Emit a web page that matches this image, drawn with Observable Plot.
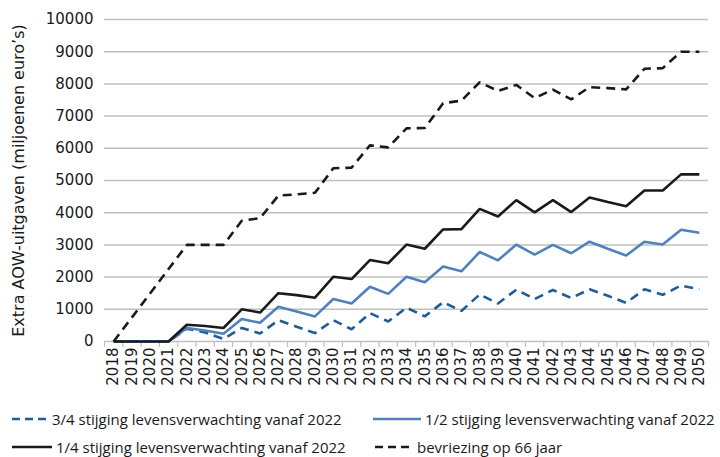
<!DOCTYPE html>
<html>
<head>
<meta charset="utf-8">
<script src="https://cdn.jsdelivr.net/npm/d3@7"></script>
<script src="https://cdn.jsdelivr.net/npm/@observablehq/plot@0.6"></script>
<style>
  html, body { margin: 0; padding: 0; background: #fff; }
  #wrap { width: 720px; height: 457px; position: relative; overflow: hidden; }
  #legend { position: absolute; left: 0; top: 400px; width: 720px; height: 57px; font-family: "Open Sans", sans-serif; font-size: 15px; color: #1a1a1a; }
  .item { position: absolute; display: flex; align-items: center; white-space: nowrap; transform: translateY(-50%); }
  .item svg { display: block; margin-right: 4px; }
</style>
</head>
<body>
<div id="wrap">
  <div id="chart"></div>
  <div id="legend"></div>
</div>
<script>
// ---- data ----
const years = d3.range(2018, 2051);
const yTicks = [0, 1000, 2000, 3000, 4000, 5000, 6000, 7000, 8000, 9000, 10000];
const seriesNames = [
  "3/4 stijging levensverwachting vanaf 2022",
  "1/2 stijging levensverwachting vanaf 2022",
  "1/4 stijging levensverwachting vanaf 2022",
  "bevriezing op 66 jaar"
];
const drieKwart = [0,0,0,0,400,280,80,420,250,660,460,260,660,380,880,620,1050,780,1220,950,1460,1180,1610,1320,1600,1350,1620,1420,1200,1620,1450,1740,1620];
const half = [0,0,0,0,420,340,240,700,580,1080,930,780,1320,1180,1700,1480,2010,1840,2330,2180,2780,2520,3010,2700,3000,2740,3100,2880,2670,3100,3010,3470,3380];
const kwart = [0,0,0,0,520,480,420,1000,900,1500,1440,1360,2010,1940,2530,2430,3010,2880,3480,3490,4120,3880,4390,4010,4390,4020,4470,4330,4200,4690,4690,5190,5190];
const bevriezing = [0,750,1500,2250,3000,3000,3000,3750,3830,4530,4570,4620,5380,5400,6090,6030,6620,6630,7400,7480,8050,7780,7970,7560,7820,7520,7900,7870,7830,8470,8490,9000,9000];
const yLabel = "Extra AOW-uitgaven (miljoenen euro\u2019s)";

// ---- styles ----
const styles = [
  {stroke: "#1f5c99", dash: "9,6"},
  {stroke: "#4f81bd", dash: null},
  {stroke: "#1a1a1a", dash: null},
  {stroke: "#1a1a1a", dash: "9,6"}
];
const values = [drieKwart, half, kwart, bevriezing];
const rows = values.map((vals, i) => years.map((y, j) => ({year: y, value: vals[j], series: seriesNames[i]})));
const boundaries = d3.range(2017.5, 2051, 1);

const lineMarks = rows.map((data, i) => Plot.line(data, {
  x: "year", y: "value",
  stroke: styles[i].stroke, strokeWidth: 2.6,
  strokeDasharray: styles[i].dash, strokeLinejoin: "miter", strokeLinecap: "butt"
}));

const chart = Plot.plot({
  width: 720, height: 400,
  marginLeft: 104, marginRight: 12, marginTop: 19, marginBottom: 59,
  style: {fontFamily: "DejaVu Sans", fontSize: "15px", color: "#1a1a1a", background: "#fff", overflow: "visible"},
  x: {type: "linear", domain: [2017.5, 2050.5]},
  y: {domain: [0, 10000]},
  marks: [
    Plot.gridY(yTicks, {stroke: "#c0c0c0", strokeOpacity: 1, strokeWidth: 1.5}),
    Plot.axisY(yTicks, {tickSize: 0, tickPadding: 11, tickFormat: d => String(d), label: null}),
    Plot.axisX(boundaries, {tickSize: 6, tickFormat: () => "", stroke: "#c0c0c0", strokeWidth: 1.2, label: null}),
    Plot.axisX(years, {tickSize: 0, tickPadding: 6, tickRotate: -90, tickFormat: d => String(d), label: null}),
    ...lineMarks,
    Plot.text([yLabel], {frameAnchor: "left", textAnchor: "middle", lineAnchor: "middle", rotate: -90, dx: -86, fontSize: 16, fill: "#1a1a1a"})
  ]
});
document.getElementById("chart").appendChild(chart);

// ---- legend ----
const legendPos = [
  {x: 12, y: 19, w: 36},
  {x: 373, y: 19, w: 48},
  {x: 12, y: 47, w: 40},
  {x: 375, y: 47, w: 38}
];
const legend = document.getElementById("legend");
seriesNames.forEach((name, i) => {
  const p = legendPos[i];
  const item = document.createElement("div");
  item.className = "item";
  item.style.left = p.x + "px";
  item.style.top = p.y + "px";
  const svg = d3.create("svg").attr("width", p.w).attr("height", 6);
  svg.append("line").attr("x1", 0).attr("x2", p.w).attr("y1", 3).attr("y2", 3)
    .attr("stroke", styles[i].stroke).attr("stroke-width", 2.6)
    .attr("stroke-dasharray", styles[i].dash ? "8,5" : null);
  item.appendChild(svg.node());
  const span = document.createElement("span");
  span.textContent = name;
  item.appendChild(span);
  legend.appendChild(item);
});
</script>
</body>
</html>
